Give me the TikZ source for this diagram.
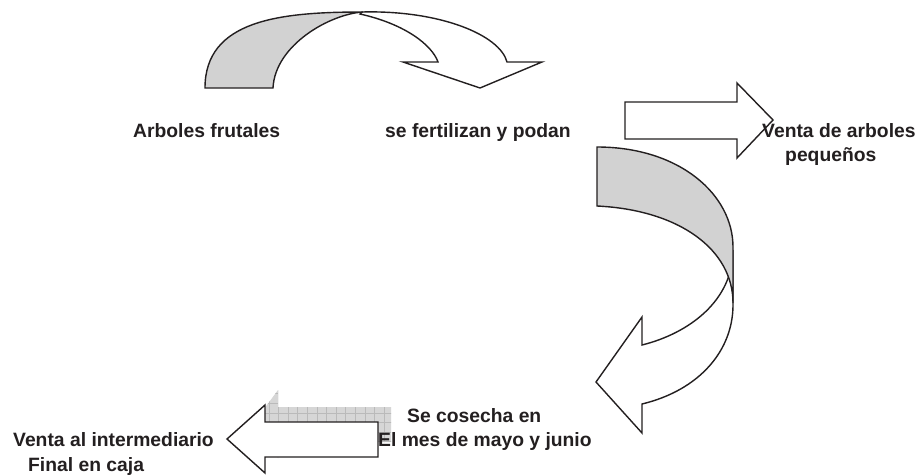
\documentclass[tikz,border=0pt]{standalone}
\usepackage{fontspec}
\setmainfont{Liberation Sans}
\definecolor{ink}{RGB}{35,31,32}
\definecolor{backgray}{RGB}{210,210,210}
\definecolor{shadowgray}{RGB}{214,214,214}
\definecolor{gridgray}{RGB}{186,186,186}
\begin{document}
\begin{tikzpicture}[x=1pt,y=-1pt,
  shape line/.style={draw=ink,line width=1.4pt,line join=miter},
  front/.style={shape line,fill=white},
  back/.style={shape line,fill=backgray},
  lbl/.style={anchor=base west,inner sep=0pt,text=ink,font=\fontsize{19.3}{23}\selectfont\bfseries}]
\useasboundingbox (0,0) rectangle (921,474);
\fill[white] (0,0) rectangle (921,474);

% top curved arrow (white front, gray back on top)
\path[front] (362,12) .. controls (440,10) and (500,35) .. (507,62)
  -- (542,62) -- (480,88) -- (403,62) -- (438,62)
  .. controls (432,45) and (405,24) .. (360,14) -- cycle;
\path[back] (205,88) .. controls (205,20) and (280,12) .. (363,12)
  .. controls (330,14) and (275,45) .. (273,88) -- cycle;

% straight right arrow
\path[front] (625,102) -- (737,102) -- (737,83) -- (773,120) -- (737,158)
  -- (737,139) -- (625,139) -- cycle;

% curved left arrow (white front first, gray back on top)
\path[front] (733,250) -- (733,305) .. controls (733,350) and (700,390) .. (642,404)
  -- (642,433) -- (596,382) -- (642,317) -- (642,345)
  .. controls (690,333) and (733,300) .. (733,250) -- cycle;
\path[back] (597,147) .. controls (680,147) and (733,195) .. (733,247)
  -- (733,303) .. controls (733,250) and (680,210) .. (597,206) -- cycle;

% bottom left arrow with patterned shadow
\begin{scope}
  \clip (253,424) -- (278,390) -- (278,407) -- (391,407) -- (391,442)
    -- (278,442) -- (278,458) -- cycle;
  \fill[shadowgray] (230,380) rectangle (400,470);
  \draw[gridgray,line width=0.5pt,step=9.6pt,shift={(0,0)}] (230,380) grid (400,470);
\end{scope}
\path[front] (227,439) -- (265,405) -- (265,422) -- (378,422) -- (378,457)
  -- (265,457) -- (265,473) -- cycle;

% labels
\node[lbl] (arboles) at (133,137) {Arboles frutales};
\node[lbl] (fertil) at (385,137) {se fertilizan y podan};
\node[lbl] (venta1) at (762,137) {Venta de arboles};
\node[lbl] (peq) at (785,161) {pequeños};
\node[lbl] (cosecha) at (407,422) {Se cosecha en};
\node[lbl] (mes) at (378,446) {El mes de mayo y junio};
\node[lbl] (venta2) at (13,446) {Venta al intermediario};
\node[lbl] (final) at (28,471) {Final en caja};
\end{tikzpicture}
\end{document}
